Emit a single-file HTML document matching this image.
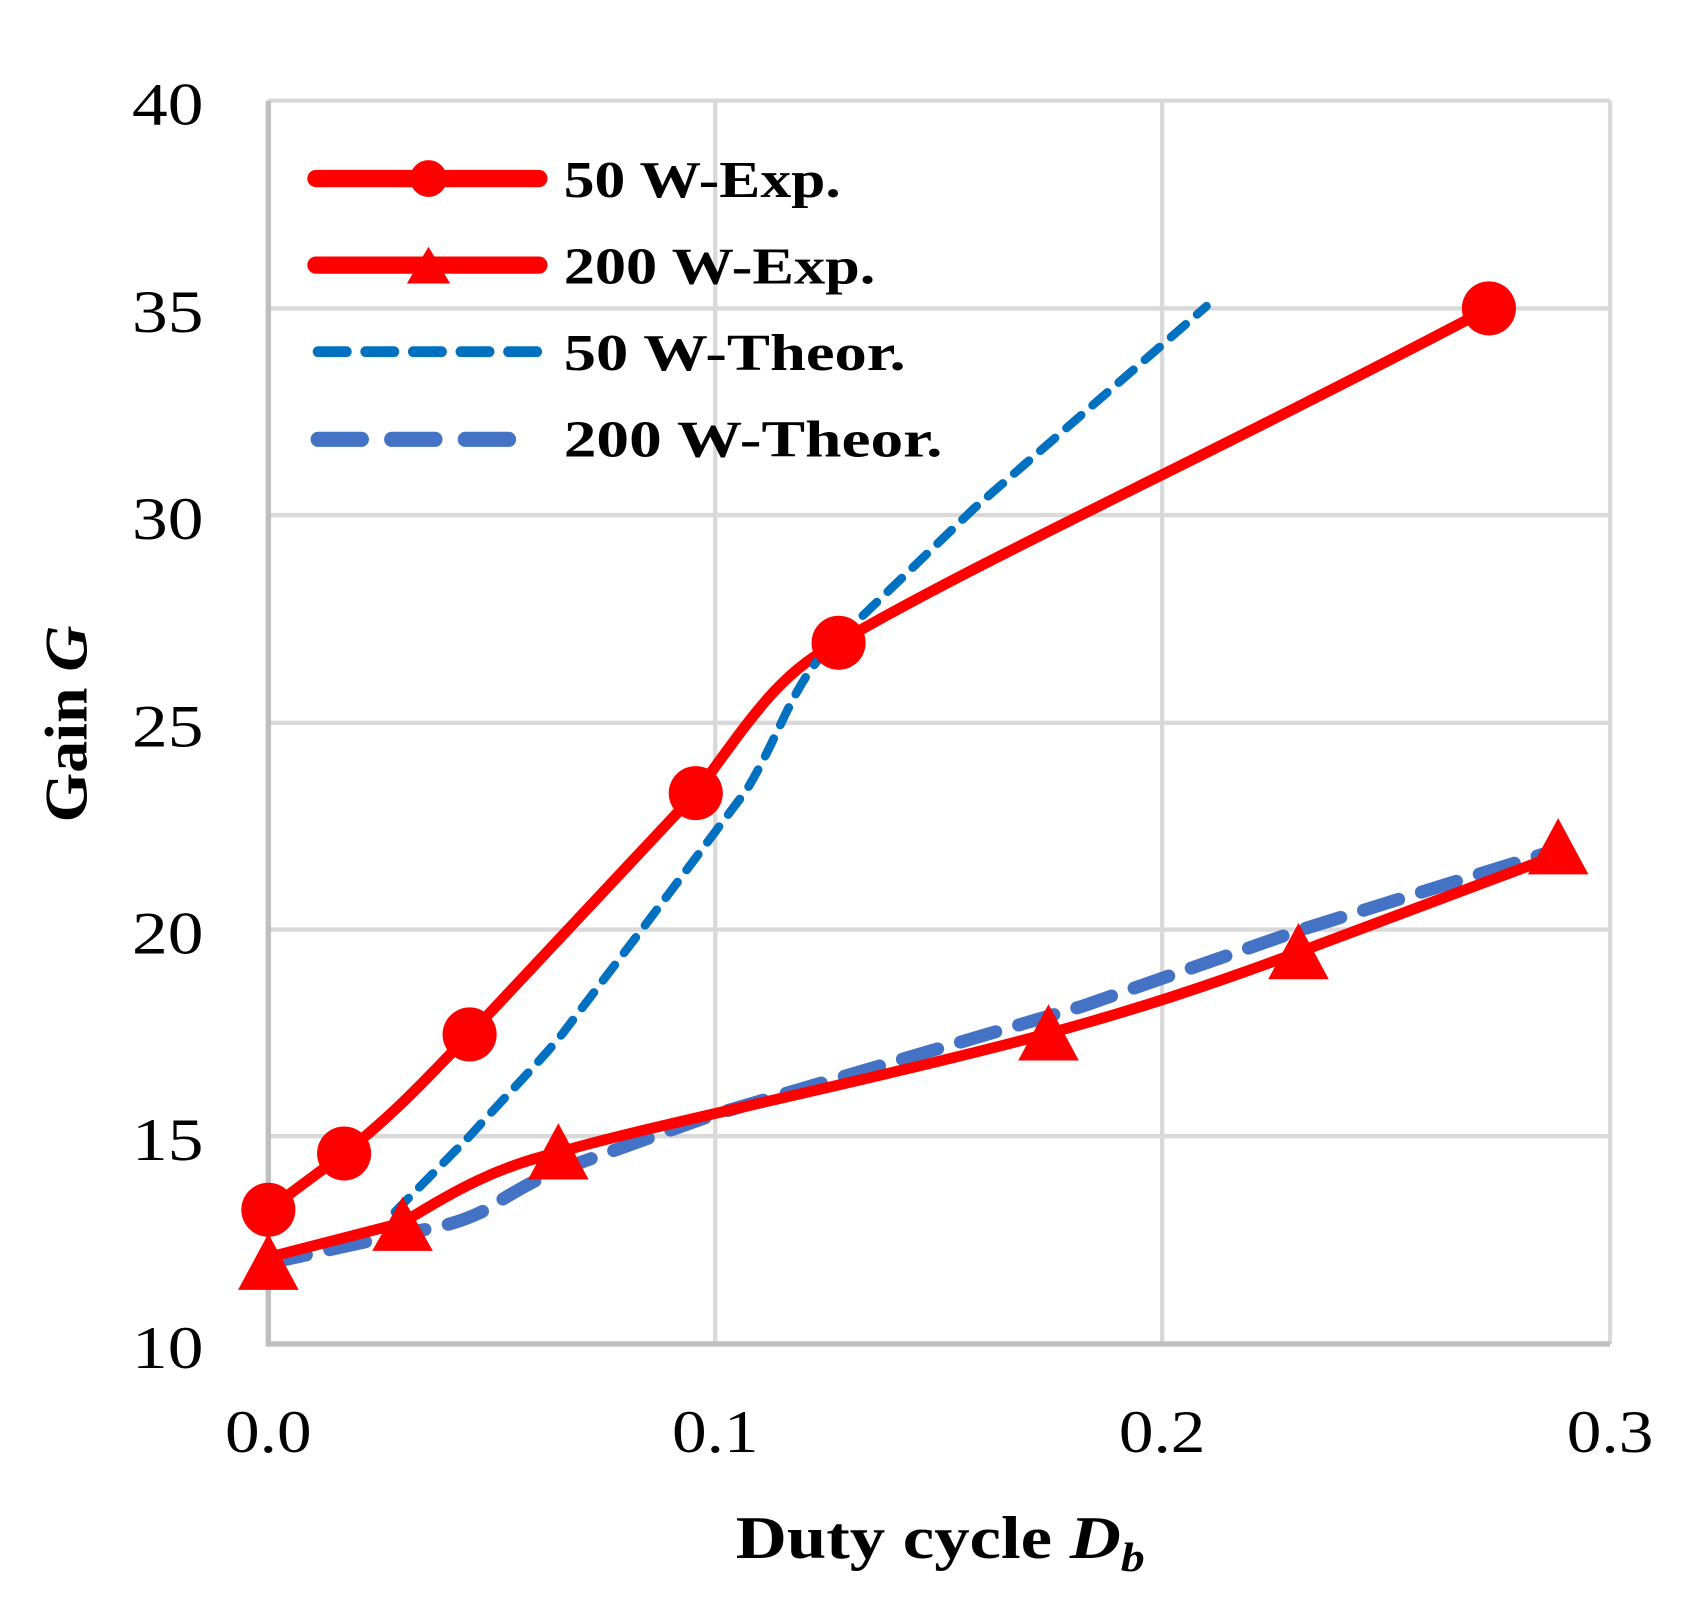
<!DOCTYPE html>
<html><head><meta charset="utf-8"><style>html,body{margin:0;padding:0;background:#fff}svg{display:block}</style></head>
<body>
<svg width="1688" height="1608" viewBox="0 0 1560 1486" preserveAspectRatio="none" xmlns="http://www.w3.org/2000/svg">
<rect width="1560" height="1486" fill="#fff"/>
<g stroke="#d9d9d9" stroke-width="4" fill="none">
<path d="M248 93H1488M248 285H1488M248 476H1488M248 668H1488M248 859H1488M248 1050H1488"/>
<path d="M661 93V1242M1074 93V1242M1488 93V1242"/>
</g>
<path d="M248 93V1242H1488" stroke="#bfbfbf" stroke-width="5" fill="none"/>
<g font-family="Liberation Serif, serif" font-size="56" fill="#000">
<text x="122" y="115" textLength="66" lengthAdjust="spacingAndGlyphs">40</text>
<text x="122" y="307" textLength="66" lengthAdjust="spacingAndGlyphs">35</text>
<text x="122" y="498" textLength="66" lengthAdjust="spacingAndGlyphs">30</text>
<text x="122" y="690" textLength="66" lengthAdjust="spacingAndGlyphs">25</text>
<text x="122" y="881" textLength="66" lengthAdjust="spacingAndGlyphs">20</text>
<text x="122" y="1072" textLength="66" lengthAdjust="spacingAndGlyphs">15</text>
<text x="122" y="1264" textLength="66" lengthAdjust="spacingAndGlyphs">10</text>
<text x="208" y="1342" textLength="80" lengthAdjust="spacingAndGlyphs">0.0</text>
<text x="621" y="1342" textLength="80" lengthAdjust="spacingAndGlyphs">0.1</text>
<text x="1034" y="1342" textLength="80" lengthAdjust="spacingAndGlyphs">0.2</text>
<text x="1448" y="1342" textLength="80" lengthAdjust="spacingAndGlyphs">0.3</text>
</g>
<g font-family="Liberation Serif, serif" font-weight="bold" font-size="56">
<text x="680" y="1440" textLength="378" lengthAdjust="spacingAndGlyphs">Duty cycle <tspan font-style="italic">D</tspan><tspan font-style="italic" font-size="38" dy="12">b</tspan></text>
<text transform="translate(80 760) rotate(-90)" textLength="182" lengthAdjust="spacingAndGlyphs">Gain <tspan font-style="italic">G</tspan></text>
</g>
<path d="M250 1167 L372 1140 C400 1135 420 1132 445 1120 C470 1105 490 1092 515 1082 L660 1030 L830 980 L1000 930 L1200 860 L1440 785" stroke="#4472C4" stroke-width="12" fill="none" stroke-dasharray="34 22" stroke-linecap="round"/>
<path d="M248 1162 L372 1130 C420 1100 460 1078 516 1065 C600 1040 800 1000 969 955 C1050 933 1120 910 1200 880 L1440 790" stroke="#ff0000" stroke-width="10" fill="none" stroke-linejoin="round"/>
<path d="M248 1118 L318 1066 C370 1025 400 990 434 956 L643 733 C690 670 720 620 775 594 C900 520 1100 430 1376 285" stroke="#ff0000" stroke-width="10" fill="none" stroke-linejoin="round"/>
<path d="M365 1120 L434 1050 C470 1010 500 980 520 955 L600 850 L690 730 C720 680 730 640 760 605 L900 470 L1115 283" stroke="#0070C0" stroke-width="8" fill="none" stroke-dasharray="18 14" stroke-linecap="round"/>
<g fill="#ff0000">
<circle cx="248" cy="1118" r="25"/><circle cx="318" cy="1066" r="25"/><circle cx="434" cy="956" r="25"/>
<circle cx="643" cy="733" r="25"/><circle cx="775" cy="594" r="25"/><circle cx="1376" cy="285" r="25"/>
<path d="M248 1140L276 1192H220Z"/><path d="M372 1106L400 1156H344Z"/><path d="M516 1038L544 1090H488Z"/>
<path d="M969 928L997 980H941Z"/><path d="M1200 853L1228 905H1172Z"/><path d="M1440 756L1468 808H1412Z"/>
</g>
<path d="M292 165H498M292 245H498" stroke="#ff0000" stroke-width="16" stroke-linecap="round"/>
<circle cx="396" cy="165" r="17" fill="#ff0000"/>
<path d="M396 228L416 262H376Z" fill="#ff0000"/>
<path d="M294 325H498" stroke="#0070C0" stroke-width="10" stroke-dasharray="26 18" stroke-linecap="round"/>
<path d="M294 406H498" stroke="#4472C4" stroke-width="14" stroke-dasharray="40 28" stroke-linecap="round"/>
<g font-family="Liberation Serif, serif" font-weight="bold" font-size="48">
<text x="521" y="182" textLength="256" lengthAdjust="spacingAndGlyphs">50 W-Exp.</text>
<text x="521" y="262" textLength="288" lengthAdjust="spacingAndGlyphs">200 W-Exp.</text>
<text x="521" y="342" textLength="316" lengthAdjust="spacingAndGlyphs">50 W-Theor.</text>
<text x="521" y="422" textLength="350" lengthAdjust="spacingAndGlyphs">200 W-Theor.</text>
</g>
</svg>
</body></html>
